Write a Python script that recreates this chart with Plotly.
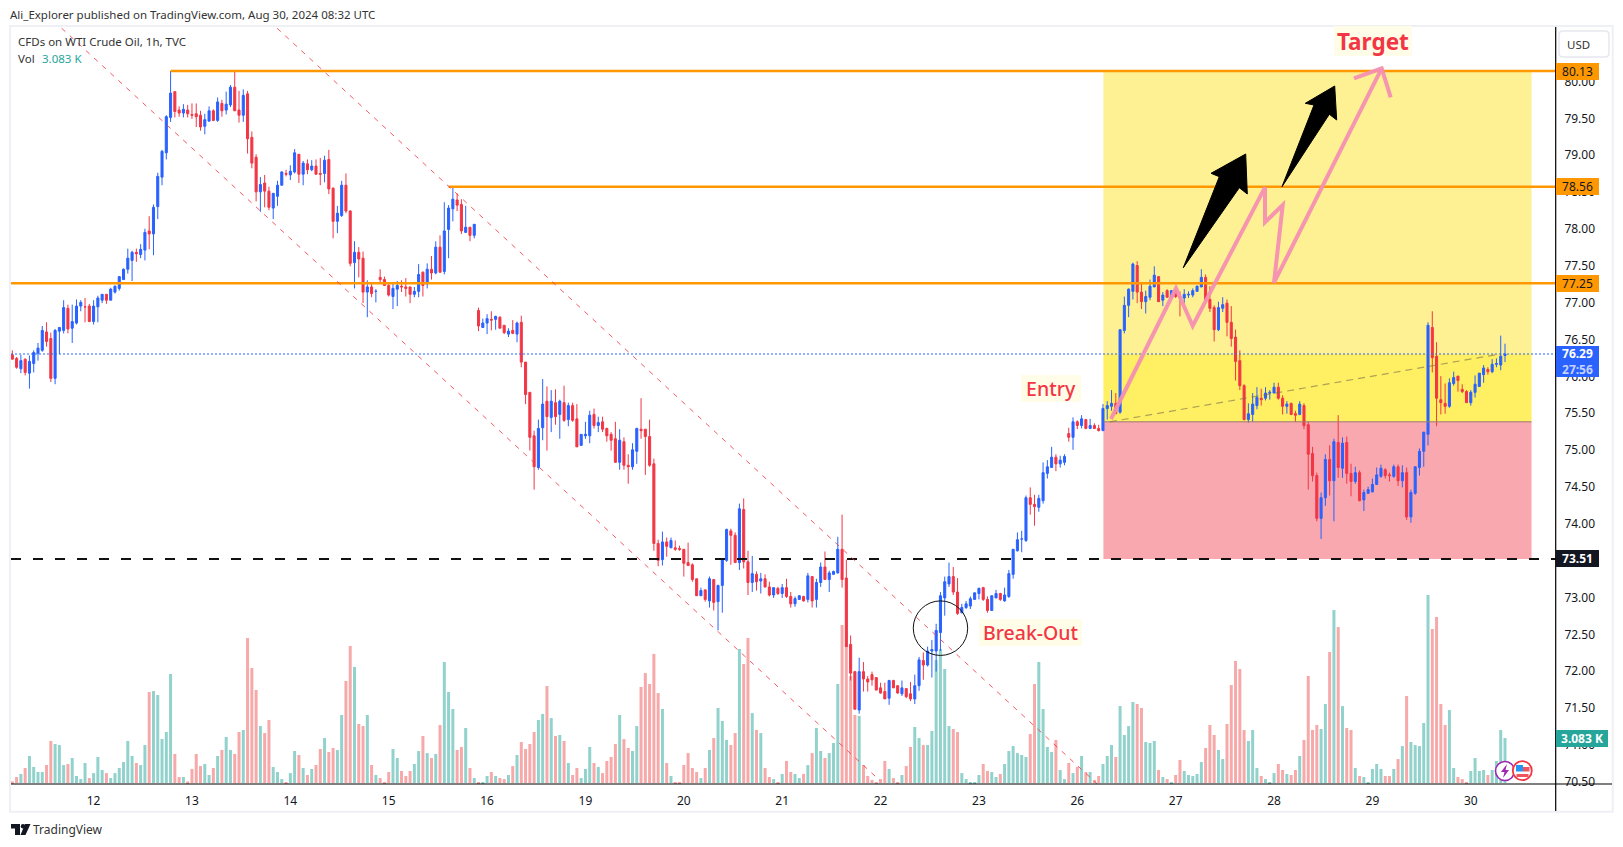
import plotly.graph_objects as go

day_ticks = [19, 42, 65, 88, 111, 134, 157, 180, 203, 226, 249, 272, 295, 318, 341]
day_labels = ["12", "13", "14", "15", "16", "19", "20", "21", "22", "23", "26", "27", "28", "29", "30"]
price_ticks = [70.5, 71.0, 71.5, 72.0, 72.5, 73.0, 73.5, 74.0, 74.5, 75.0, 75.5, 76.0, 76.5, 77.0, 77.5, 78.0, 78.5, 79.0, 79.5, 80.0]

open_ = [
76.28,76.23,76.09,76.22,76.03,76.16,76.30,76.34,76.59,76.50,
75.96,76.60,76.61,76.91,76.64,76.71,76.94,76.93,76.94,76.73,
76.93,77.02,77.10,77.02,77.13,77.18,77.30,77.44,77.56,77.67,
77.64,77.70,77.96,77.92,78.29,78.69,79.02,79.50,79.85,79.60,
79.56,79.60,79.54,79.55,79.53,79.38,79.45,79.59,79.46,79.69,
79.60,79.67,79.91,79.60,79.53,79.82,79.23,78.96,78.49,78.61,
78.50,78.27,78.43,78.58,78.74,78.72,78.76,79.00,78.73,78.87,
78.79,78.84,78.74,78.74,78.93,78.54,78.09,78.17,78.58,78.23,
77.53,77.67,77.59,77.13,77.20,77.14,77.33,77.30,77.22,77.07,
77.17,77.21,77.20,77.20,77.10,77.14,77.40,77.24,77.44,77.39,
77.74,77.41,77.98,78.26,78.38,78.32,77.94,78.01,77.90,76.88,
76.65,76.71,76.76,76.76,76.79,76.68,76.56,76.61,76.56,76.72,
76.18,75.77,75.18,74.75,75.29,75.65,75.43,75.63,75.47,75.63,
75.40,75.59,75.41,75.05,75.18,75.18,75.47,75.32,75.37,75.28,
75.20,75.14,74.82,75.10,74.78,74.76,74.97,75.27,75.27,75.17,
74.80,73.72,73.50,73.74,73.66,73.66,73.65,73.64,73.46,73.43,
73.24,73.01,73.09,72.94,73.23,72.93,73.15,73.49,73.89,73.83,
73.46,74.18,73.47,73.19,73.30,73.21,73.24,73.13,73.02,73.11,
73.04,73.12,73.00,72.90,72.96,73.00,72.96,73.27,72.96,73.19,
73.40,73.23,73.30,73.32,73.64,73.25,72.35,71.98,71.46,71.98,
71.88,71.94,71.90,71.76,71.71,71.62,71.86,71.79,71.68,71.75,
71.68,71.61,71.79,72.13,72.07,72.26,72.26,72.51,72.98,73.17,
73.27,73.06,72.78,72.85,72.87,72.96,73.04,73.12,72.96,72.81,
72.98,73.04,72.94,73.00,73.30,73.62,73.78,73.76,74.34,74.25,
74.21,74.30,74.67,74.75,74.89,74.80,74.82,75.21,75.16,75.37,
75.32,75.40,75.28,75.32,75.28,75.25,75.55,75.58,75.62,75.50,
76.61,76.95,77.14,77.49,77.13,77.00,77.06,77.20,77.34,77.02,
77.15,77.06,77.15,77.07,77.05,77.09,77.09,77.14,77.20,77.33,
77.03,76.92,76.62,76.91,76.98,76.72,76.52,76.20,75.86,75.40,
75.47,75.59,75.69,75.69,75.76,75.76,75.84,75.69,75.58,75.62,
75.48,75.47,75.59,75.33,74.94,74.64,74.06,74.34,74.86,74.57,
75.09,74.74,75.09,74.67,74.56,74.68,74.31,74.40,74.42,74.52,
74.63,74.72,74.65,74.63,74.76,74.57,74.68,74.08,74.40,74.75,
74.97,75.20,76.65,76.26,75.67,75.62,75.58,75.89,75.99,75.81,
75.78,75.63,75.77,75.85,76.01,76.08,76.05,76.15,76.14,76.27]

close_ = [
76.22,76.11,76.20,76.04,76.19,76.31,76.37,76.61,76.46,75.96,
76.61,76.65,76.92,76.63,76.73,76.94,76.99,76.93,76.73,76.94,
77.05,77.10,77.02,77.17,77.21,77.34,77.44,77.59,77.67,77.65,
77.71,77.94,77.92,78.28,78.70,79.04,79.51,79.83,79.58,79.56,
79.61,79.55,79.53,79.51,79.37,79.47,79.59,79.46,79.71,79.59,
79.68,79.91,79.59,79.53,79.80,79.21,78.88,78.49,78.59,78.50,
78.28,78.47,78.58,78.76,78.73,78.77,79.02,78.73,78.88,78.79,
78.84,78.73,78.73,78.92,78.53,78.09,78.20,78.58,78.23,77.52,
77.67,77.58,77.13,77.20,77.11,77.14,77.30,77.22,77.09,77.18,
77.22,77.20,77.18,77.10,77.14,77.37,77.22,77.44,77.39,77.74,
77.40,77.96,78.27,78.39,78.31,77.96,78.01,77.90,78.05,76.67,
76.71,76.77,76.75,76.80,76.64,76.58,76.60,76.57,76.71,76.18,
75.74,75.16,74.76,75.28,75.61,75.44,75.65,75.44,75.65,75.39,
75.59,75.39,75.03,75.20,75.20,75.46,75.32,75.36,75.27,75.18,
75.12,74.82,75.12,74.78,74.76,74.99,75.28,75.25,75.17,74.78,
73.72,73.49,73.74,73.68,73.76,73.64,73.64,73.45,73.42,73.23,
73.01,73.08,72.96,73.24,72.92,73.15,73.51,73.91,73.83,73.46,
74.19,73.47,73.19,73.31,73.20,73.24,73.13,73.02,73.12,73.04,
73.12,73.00,72.90,72.97,73.01,72.94,73.28,72.94,73.19,73.40,
73.23,73.32,73.34,73.64,73.23,72.32,71.96,71.47,71.98,71.88,
71.84,71.87,71.73,71.69,71.61,71.86,71.76,71.69,71.76,71.64,
71.61,71.79,72.14,72.07,72.26,72.28,72.54,73.01,73.20,73.27,
73.06,72.77,72.85,72.90,72.97,73.05,73.11,72.96,72.81,73.01,
73.04,72.96,73.02,73.31,73.64,73.77,73.78,74.34,74.25,74.22,
74.33,74.68,74.76,74.89,74.80,74.85,74.90,75.16,75.37,75.32,
75.41,75.28,75.32,75.28,75.25,75.55,75.59,75.62,75.48,76.62,
76.95,77.17,77.51,77.13,77.00,77.07,77.21,77.36,77.00,77.09,
77.06,77.15,77.07,77.05,77.10,77.10,77.15,77.21,77.33,77.02,
76.91,76.62,76.92,76.96,76.72,76.50,76.19,75.86,75.40,75.48,
75.61,75.70,75.67,75.76,75.77,75.84,75.69,75.58,75.61,75.47,
75.46,75.61,75.32,74.93,74.64,74.06,74.34,74.86,74.57,75.10,
74.75,75.08,74.67,74.56,74.68,74.30,74.41,74.45,74.52,74.65,
74.74,74.64,74.64,74.76,74.57,74.68,74.08,74.41,74.76,74.97,
75.23,76.68,76.24,75.69,75.63,75.58,75.90,75.97,75.93,75.78,
75.63,75.77,75.88,76.03,76.10,76.05,76.15,76.16,76.26,76.29]

high = [
76.34,76.25,76.28,76.23,76.27,76.34,76.44,76.67,76.72,76.58,
76.63,76.65,77.02,76.96,76.96,77.03,77.02,77.05,76.97,77.02,
77.08,77.10,77.10,77.19,77.22,77.34,77.45,77.72,77.69,77.72,
77.78,77.99,78.16,78.32,78.75,79.06,79.53,80.13,79.85,79.65,
79.68,79.67,79.69,79.69,79.59,79.55,79.65,79.61,79.77,79.74,
79.85,79.94,80.13,79.86,79.88,79.86,79.31,79.00,78.69,78.72,
78.56,78.47,78.64,78.77,78.79,78.85,79.07,79.00,78.91,78.93,
78.92,78.93,78.95,78.98,79.06,78.55,78.30,78.64,78.74,78.24,
77.82,77.74,77.68,77.29,77.25,77.17,77.44,77.34,77.25,77.25,
77.28,77.29,77.32,77.20,77.20,77.51,77.41,77.52,77.62,77.82,
77.90,78.35,78.31,78.55,78.47,78.39,78.30,78.01,78.05,76.92,
76.77,76.83,76.87,76.81,76.80,76.68,76.64,76.75,76.73,76.81,
76.18,75.77,75.25,75.40,75.95,75.85,75.80,75.81,75.67,75.86,
75.63,75.63,75.61,75.20,75.37,75.52,75.55,75.44,75.44,75.29,
75.23,75.37,75.27,75.16,74.93,75.08,75.29,75.69,75.27,75.40,
74.87,73.77,73.88,73.80,73.80,73.76,73.69,73.64,73.73,73.45,
73.24,73.12,73.09,73.27,73.23,73.16,73.51,73.92,73.92,73.87,
74.26,74.33,73.62,73.55,73.34,73.32,73.30,73.20,73.12,73.13,
73.17,73.24,73.06,73.00,73.02,73.01,73.32,73.27,73.24,73.46,
73.61,73.35,73.35,73.81,74.11,73.50,72.47,71.99,72.17,72.11,
71.92,71.98,71.90,71.83,71.83,71.87,71.87,71.79,71.86,71.75,
71.84,71.94,72.18,72.24,72.32,72.41,72.63,73.06,73.27,73.46,
73.40,73.25,72.90,72.94,73.00,73.05,73.12,73.13,73.00,73.01,
73.09,73.05,73.12,73.36,73.64,73.87,73.89,74.37,74.48,74.38,
74.38,74.82,74.85,75.03,74.93,74.91,74.93,75.29,75.43,75.39,
75.46,75.41,75.41,75.35,75.33,75.61,75.65,75.80,75.76,76.62,
77.07,77.18,77.53,77.55,77.26,77.15,77.30,77.48,77.34,77.13,
77.17,77.15,77.17,77.14,77.17,77.14,77.18,77.22,77.44,77.37,
77.21,76.95,77.00,77.06,77.03,76.94,76.62,76.34,75.88,75.62,
75.76,75.84,75.82,75.84,75.80,75.90,75.90,75.73,75.65,75.63,
75.52,75.65,75.62,75.37,75.03,74.68,74.41,74.93,75.05,75.14,
75.46,75.16,75.17,74.80,74.76,74.71,74.45,74.49,74.60,74.75,
74.79,74.74,74.68,74.79,74.79,74.78,74.75,74.45,74.76,75.01,
75.23,76.72,76.87,76.45,75.99,75.89,75.96,76.05,75.99,75.88,
75.80,75.80,76.00,76.03,76.14,76.11,76.22,76.23,76.54,76.43]

low = [
76.22,76.09,76.03,76.00,75.82,76.04,76.20,76.32,76.39,75.91,
75.88,76.29,76.57,76.57,76.44,76.69,76.87,76.72,76.73,76.69,
76.72,76.98,76.97,77.02,77.11,77.15,77.30,77.38,77.28,77.54,
77.59,77.56,77.71,77.63,78.12,78.58,78.93,79.44,79.50,79.51,
79.50,79.50,79.48,79.37,79.32,79.27,79.44,79.45,79.44,79.51,
79.54,79.64,79.59,79.43,79.44,79.01,78.81,78.36,78.22,78.28,
78.24,78.12,78.30,78.58,78.70,78.65,78.74,78.61,78.58,78.73,
78.77,78.72,78.58,78.62,78.46,77.86,77.93,78.15,78.20,77.48,
77.18,77.33,76.98,76.79,77.06,76.99,77.26,77.22,77.07,76.90,
76.94,77.13,77.07,76.98,77.06,77.06,77.07,77.18,77.30,77.37,
77.39,77.37,77.59,78.09,78.23,77.92,77.94,77.82,77.86,76.60,
76.65,76.56,76.61,76.62,76.64,76.56,76.52,76.56,76.45,76.11,
75.61,74.98,74.45,74.72,75.12,74.98,75.23,75.33,75.14,75.37,
75.31,75.37,75.03,75.05,75.14,75.08,75.28,75.23,75.23,75.10,
74.98,74.82,74.72,74.72,74.53,74.72,74.80,75.14,74.65,74.76,
73.62,73.41,73.42,73.54,73.66,73.62,73.62,73.27,73.42,73.20,
73.01,73.01,72.93,72.85,72.81,72.54,72.78,73.47,73.43,73.46,
73.36,73.38,73.02,73.06,73.08,73.04,73.12,73.00,72.98,73.02,
72.98,72.98,72.85,72.86,72.96,72.93,72.92,72.85,72.85,73.13,
73.23,73.06,73.30,73.31,73.12,72.32,71.86,71.47,71.41,71.71,
71.71,71.79,71.73,71.68,71.61,71.53,71.76,71.68,71.65,71.62,
71.58,71.54,71.72,71.87,72.05,71.90,71.98,72.26,72.74,73.13,
73.02,72.75,72.77,72.83,72.83,72.96,72.96,72.94,72.78,72.81,
72.98,72.94,72.93,72.98,73.24,73.61,73.60,73.74,74.11,73.96,
74.15,74.26,74.60,74.75,74.70,74.75,74.78,75.10,74.99,75.27,
75.28,75.27,75.27,75.27,75.24,75.25,75.40,75.52,75.48,75.48,
76.57,76.79,77.03,76.98,76.90,76.84,77.02,77.20,77.00,76.94,
77.06,77.06,77.05,76.80,76.98,77.05,77.06,77.14,77.20,77.02,
76.86,76.46,76.60,76.86,76.53,76.39,75.93,75.80,75.39,75.36,
75.37,75.54,75.59,75.66,75.67,75.76,75.67,75.47,75.48,75.46,
75.37,75.46,75.27,74.45,74.56,74.02,73.78,74.23,74.37,74.02,
74.61,74.61,74.53,74.36,74.53,74.29,74.16,74.40,74.41,74.52,
74.61,74.60,74.56,74.61,74.50,74.48,74.04,74.00,74.38,74.64,
74.76,75.05,76.04,75.31,75.47,75.48,75.56,75.86,75.78,75.76,
75.63,75.59,75.70,75.85,75.90,76.01,76.03,76.11,76.07,76.18]

volume_k = [
0.11,0.41,0.62,1.03,1.85,1.10,0.75,0.75,1.23,2.88,
2.67,2.60,1.23,1.30,1.71,0.48,0.27,1.37,0.34,0.68,
1.78,0.89,0.68,0.34,0.68,1.03,1.44,2.88,1.85,1.37,
1.23,2.60,6.23,6.30,6.03,3.01,3.49,7.47,1.99,0.41,
0.41,0.11,0.96,1.99,1.16,1.30,0.55,1.03,1.85,2.26,
3.15,2.26,1.99,3.49,3.63,9.93,7.88,6.37,3.90,3.42,
4.32,1.10,0.75,0.27,0.07,0.68,2.19,1.92,1.03,0.55,
0.96,1.23,2.33,3.08,2.12,2.40,2.26,4.66,6.99,9.38,
7.95,4.04,3.90,4.66,1.23,0.55,0.34,0.07,0.75,2.33,
1.71,0.82,0.48,0.82,1.30,2.19,3.22,2.05,1.71,1.99,
3.97,8.29,6.23,5.07,2.26,2.47,3.77,1.03,0.34,0.07,
0.07,0.48,0.75,0.48,0.34,0.27,0.55,1.16,1.92,2.81,
2.33,2.67,3.49,4.32,4.73,6.64,4.45,3.22,3.29,2.88,
1.37,0.55,1.03,0.34,0.96,2.47,1.37,1.10,0.68,1.51,
1.78,2.67,4.66,3.01,2.40,2.19,3.90,6.58,7.53,6.78,
8.84,6.16,5.07,1.37,0.48,0.07,0.07,1.23,2.05,1.03,
0.75,0.34,1.03,2.26,3.08,5.14,4.25,2.95,2.60,3.42,
9.18,8.15,9.93,4.79,3.63,3.42,1.03,0.41,0.27,0.07,
0.62,1.51,0.75,0.62,0.34,0.62,1.23,2.05,3.77,2.19,
1.71,2.05,2.74,6.78,10.82,9.45,7.33,4.66,4.59,1.23,
0.48,0.21,0.07,0.27,1.51,0.96,0.34,0.07,0.55,1.16,
2.47,3.84,3.08,2.60,2.60,3.56,8.42,9.18,7.81,3.90,
3.70,3.49,0.68,0.27,0.07,0.07,0.55,1.30,0.82,0.75,
0.41,0.62,1.30,2.19,2.53,2.05,1.92,1.78,3.36,6.78,
8.29,5.07,2.47,2.12,2.95,0.89,0.27,1.37,0.68,1.10,
1.85,0.75,0.75,0.21,0.48,1.30,1.85,2.60,1.78,5.27,
3.29,3.90,5.55,5.41,5.14,2.81,2.74,2.88,0.89,0.41,
0.27,0.07,0.55,1.58,0.82,0.55,0.48,0.62,1.44,2.40,
3.97,3.29,2.26,1.64,4.04,6.71,8.36,7.81,3.63,2.88,
3.63,1.03,0.48,0.27,0.07,0.68,1.30,0.89,0.62,0.55,
0.89,1.85,2.95,7.33,3.63,3.97,3.70,5.41,8.97,11.85,
10.68,5.27,3.77,3.63,1.03,0.48,0.41,0.07,0.96,1.30,
0.96,0.48,0.48,0.96,1.64,2.53,5.96,2.81,2.60,2.53,
4.11,12.88,10.55,11.37,5.41,3.97,5.00,1.03,0.41,0.27,
0.07,0.82,1.71,0.82,0.89,0.55,0.89,1.51,3.63,3.083]

solid_levels = [80.13, 78.56, 77.25]
solid_level_starts = [37, 102, -0.31]
support_level = 73.51
last_price = 76.29
entry_price = 75.37
zone_start, zone_end = 255.1, 355.2
channel_lower = [(11.54, 80.71), (202.9, 70.50)]
channel_upper = [(61.9, 80.71), (253.6, 70.46)]
drift_line = [(256.6, 75.37), (347.8, 76.29)]
breakout_circle = [(210.65, 72.94), (223.37, 72.20)]

BLUE, RED = "#2962FF", "#F23645"
TEAL, PINK = "#91D2CC", "#F7A8A8"
ORANGE = "#FF9800"
INK = "#131722"
FONT = "Noto Sans"

W, H = 1623, 847
L, R, T, B = 11, 1556, 27, 784
PER_BAR = 4.277
PER_UNIT = 73.7

def px(x):
    return (x - L) / (R - L)

def py(y):
    return (B - y) / (B - T)

def poly(points, close=True):
    d = "M" + " L".join(f"{px(x):.5f},{py(y):.5f}" for x, y in points)
    return d + (" Z" if close else "")

x_idx = list(range(len(open_)))
vol_colors = [TEAL if c >= o else PINK for o, c in zip(open_, close_)]

fig = go.Figure()
fig.add_trace(go.Bar(x=x_idx, y=volume_k, marker=dict(color=vol_colors, line=dict(width=0)),
                     yaxis="y", hoverinfo="skip", showlegend=False))
fig.add_trace(go.Candlestick(x=x_idx, open=open_, high=high, low=low, close=close_, yaxis="y2",
                             increasing=dict(line=dict(color=BLUE, width=1), fillcolor=BLUE),
                             decreasing=dict(line=dict(color=RED, width=1), fillcolor=RED),
                             whiskerwidth=0, showlegend=False))

shapes = []
def rect(x0, y0, x1, y1, fill, layer="below"):
    shapes.append(dict(type="rect", xref="x", yref="y2", x0=x0, x1=x1, y0=y0, y1=y1,
                       fillcolor=fill, line=dict(width=0), layer=layer))

rect(zone_start, last_price, zone_end, solid_levels[0], "#FEF193")
rect(zone_start, entry_price, zone_end, last_price, "#FFEF62")
rect(zone_start, support_level, zone_end, entry_price, "#F9A8AF")

def hline(x0, x1, y, color, width, dash="solid"):
    shapes.append(dict(type="line", xref="x", yref="y2", x0=x0, x1=x1, y0=y, y1=y,
                       line=dict(color=color, width=width, dash=dash)))

x_end = (R - 12.33) / PER_BAR
for lvl, st in zip(solid_levels, solid_level_starts):
    hline(st, x_end, lvl, ORANGE, 2.4)
hline(-0.31, x_end, support_level, "#111111", 2, "10px,12px")
hline(-0.31, x_end, last_price, BLUE, 1.2, "2px,2px")
hline(zone_start, zone_end, entry_price, "#9A7A66", 1)

for seg_ in (channel_lower, channel_upper):
    shapes.append(dict(type="line", xref="x", yref="y2", x0=seg_[0][0], y0=seg_[0][1], x1=seg_[1][0], y1=seg_[1][1],
                       line=dict(color="rgba(242,54,69,0.82)", width=1, dash="5px,6px")))
shapes.append(dict(type="line", xref="x", yref="y2", x0=drift_line[0][0], y0=drift_line[0][1],
                   x1=drift_line[1][0], y1=drift_line[1][1],
                   line=dict(color="rgba(120,110,80,0.6)", width=1.2, dash="7px,5px")))
shapes.append(dict(type="circle", xref="x", yref="y2", x0=breakout_circle[0][0], y0=breakout_circle[0][1],
                   x1=breakout_circle[1][0], y1=breakout_circle[1][1], line=dict(color="#111111", width=1)))

def path(d, fill=None, line=None, width=0):
    s = dict(type="path", xref="paper", yref="paper", path=d, line=dict(width=width, color=line or "rgba(0,0,0,0)"))
    if fill:
        s["fillcolor"] = fill
    shapes.append(s)

def seg(x0, y0, x1, y1, color, width):
    shapes.append(dict(type="line", xref="paper", yref="paper", x0=px(x0), x1=px(x1), y0=py(y0), y1=py(y1),
                       line=dict(color=color, width=width)))

def prect(x0, y0, x1, y1, fill, line=None, width=0):
    shapes.append(dict(type="rect", xref="paper", yref="paper", x0=px(x0), x1=px(x1), y0=py(y0), y1=py(y1),
                       fillcolor=fill, line=dict(color=line or "rgba(0,0,0,0)", width=width)))

def pcircle(cx, cy, r, fill, line, width):
    shapes.append(dict(type="circle", xref="paper", yref="paper", x0=px(cx - r), x1=px(cx + r),
                       y0=py(cy + r), y1=py(cy - r), fillcolor=fill, line=dict(color=line, width=width)))

PINKLINE = "rgba(244,143,177,0.95)"
path(poly([(1111, 419), (1176, 288.3), (1192.7, 326), (1265, 187.3), (1265, 222.3), (1282.7, 205),
           (1274, 282.7), (1381.7, 68.3)], close=False), line=PINKLINE, width=4)
path(poly([(1354, 78.3), (1381.7, 68.3), (1390.7, 97.3)], close=False), line=PINKLINE, width=4)
path(poly([(1183.3, 267.7), (1219.3, 176.7), (1211, 173.3), (1245.7, 154), (1247.3, 194), (1239.3, 187.7)]), fill="#000000", line="#000000", width=1)
path(poly([(1282, 186.7), (1314, 105), (1305.3, 103.3), (1334.7, 86), (1336.7, 120), (1329.3, 114.3)]), fill="#000000", line="#000000", width=1)

# frame and axis rules
prect(10, 26, 1612.7, 811.7, "rgba(0,0,0,0)", "#EFF0F5", 2)
seg(11, 784, 1612, 784, "#000000", 1.2)
seg(1555.7, 27, 1555.7, 811, "#000000", 1.2)

# USD button
x0b, x1b, y0b, y1b, rb = 1559, 1609, 31, 57, 4
path(f"M{px(x0b+rb):.5f},{py(y0b):.5f} L{px(x1b-rb):.5f},{py(y0b):.5f} Q{px(x1b):.5f},{py(y0b):.5f} {px(x1b):.5f},{py(y0b+rb):.5f} "
     f"L{px(x1b):.5f},{py(y1b-rb):.5f} Q{px(x1b):.5f},{py(y1b):.5f} {px(x1b-rb):.5f},{py(y1b):.5f} "
     f"L{px(x0b+rb):.5f},{py(y1b):.5f} Q{px(x0b):.5f},{py(y1b):.5f} {px(x0b):.5f},{py(y1b-rb):.5f} "
     f"L{px(x0b):.5f},{py(y0b+rb):.5f} Q{px(x0b):.5f},{py(y0b):.5f} {px(x0b+rb):.5f},{py(y0b):.5f} Z",
     line="#E6E8EE", width=1.5)

# event markers
pcircle(1505, 771, 9.5, "#FFFFFF", "#9C27B0", 1.6)
path(poly([(1507, 764), (1501, 772), (1504.5, 772), (1503, 778), (1509, 770), (1505.5, 770)]), fill="#9C27B0")
pcircle(1522.3, 770.7, 9.5, "#FFFFFF", RED, 1.8)
prect(1516, 765, 1523, 771.5, "#2196F3")
prect(1523, 767, 1529.5, 771.5, "#F0555F")
prect(1516.5, 774, 1528.5, 777, "#F0555F")

# logo
path(poly([(11, 824), (20, 824), (20, 835), (15, 835), (15, 828.5), (11, 828.5)]), fill="#131722")
pcircle(23, 826.3, 2.2, "#131722", "#131722", 0)
path(poly([(25, 824), (30.5, 824), (25.5, 835), (20.5, 835)]), fill="#131722")

anns = []
def text(x, y, s, size=12, color=INK, anchor="left", weight=None, yanchor="middle", bg=None, w=None, h=None):
    a = dict(xref="paper", yref="paper", x=px(x), y=py(y), text=s, showarrow=False, xanchor=anchor, yanchor=yanchor,
             font=dict(size=size, color=color, family=FONT, weight=weight or 400), borderpad=0, borderwidth=0)
    if bg:
        a["bgcolor"] = bg
    if w:
        a["width"] = w
    if h:
        a["height"] = h
    anns.append(a)

text(9.5, 15, "Ali_Explorer published on TradingView.com, Aug 30, 2024 08:32 UTC", size=11.5, color="#333333")
text(18, 41.7, "CFDs on WTI Crude Oil, 1h, TVC", size=11.5, color="#333333")
text(18, 58.7, "Vol", size=11.5, color="#333333")
text(41.7, 58.7, "3.083 K", size=11.5, color="#26A69A")
text(1578, 44, "USD", size=11.5, color="#333333", anchor="center")
text(33, 829.5, "TradingView", size=12, color="#333333")

text(1373, 41, "<b>Target</b>", size=22.5, color=RED, anchor="center", bg="#FFFDE7", w=78, h=30)
text(1051, 389, "Entry", size=19.5, color=RED, anchor="center", weight=500, bg="#FFFDE7", w=60, h=27)
text(1030, 632, "Break-Out", size=19.5, color=RED, anchor="center", weight=500, bg="#FFFDE7", w=103, h=26.5)

for lvl in solid_levels:
    anns.append(dict(xref="paper", yref="y2", x=px(1577.5), y=lvl, text=f"{lvl:.2f}", showarrow=False,
                     font=dict(size=12, color="#131722", family=FONT), bgcolor=ORANGE, width=43, height=17,
                     borderpad=0, borderwidth=0, xanchor="center", yanchor="middle"))
anns.append(dict(xref="paper", yref="y2", x=px(1577.5), y=support_level, text=f"<b>{support_level:.2f}</b>", showarrow=False,
                 font=dict(size=12, color="#FFFFFF", family=FONT), bgcolor="#131722", width=43, height=17,
                 borderpad=0, borderwidth=0, xanchor="center", yanchor="middle"))
text(1577.5, 361.3, f"<b>{last_price:.2f}</b><br><span style='color:#C4D2FF'><b>27:56</b></span>", size=12, color="#FFFFFF",
     anchor="center", bg=BLUE, w=43, h=31)
text(1581.7, 738.3, f"<b>{volume_k[-1]:.3f} K</b>", size=12, color="#FFFFFF", anchor="center", bg="#26A69A", w=52, h=17)

fig.update_layout(
    width=W, height=H, autosize=False,
    margin=dict(l=L, r=W - R, t=T, b=H - B, pad=0),
    paper_bgcolor="#FFFFFF", plot_bgcolor="#FFFFFF",
    showlegend=False, hovermode=False, dragmode=False,
    barmode="overlay", bargap=0.3, boxgap=0.52, boxgroupgap=0,
    xaxis=dict(range=[(L - 12.33) / PER_BAR, x_end], tickmode="array", tickvals=day_ticks, ticktext=day_labels,
               showgrid=False, zeroline=False, showline=False, ticks="outside", ticklen=6, tickcolor="rgba(0,0,0,0)",
               tickfont=dict(size=12, color=INK, family=FONT), rangeslider=dict(visible=False), automargin=False),
    yaxis=dict(range=[-0.068, 51.78], visible=False, fixedrange=True, automargin=False),
    yaxis2=dict(overlaying="y", side="right", anchor="x",
                range=[solid_levels[0] - (B - 71) / PER_UNIT, solid_levels[0] + (71 - T) / PER_UNIT],
                tickmode="array", tickvals=price_ticks, ticktext=[f"{p:.2f}" for p in price_ticks],
                showgrid=False, zeroline=False, showline=False, ticks="outside", ticklen=5, tickcolor="rgba(0,0,0,0)",
                ticklabelshift=1,
                tickfont=dict(size=12, color=INK, family=FONT), automargin=False),
    shapes=shapes, annotations=anns,
)

fig.write_html("out.html", config=dict(displayModeBar=False, responsive=False),
               post_script="document.body.style.margin='0';document.body.style.background='#fff';")
